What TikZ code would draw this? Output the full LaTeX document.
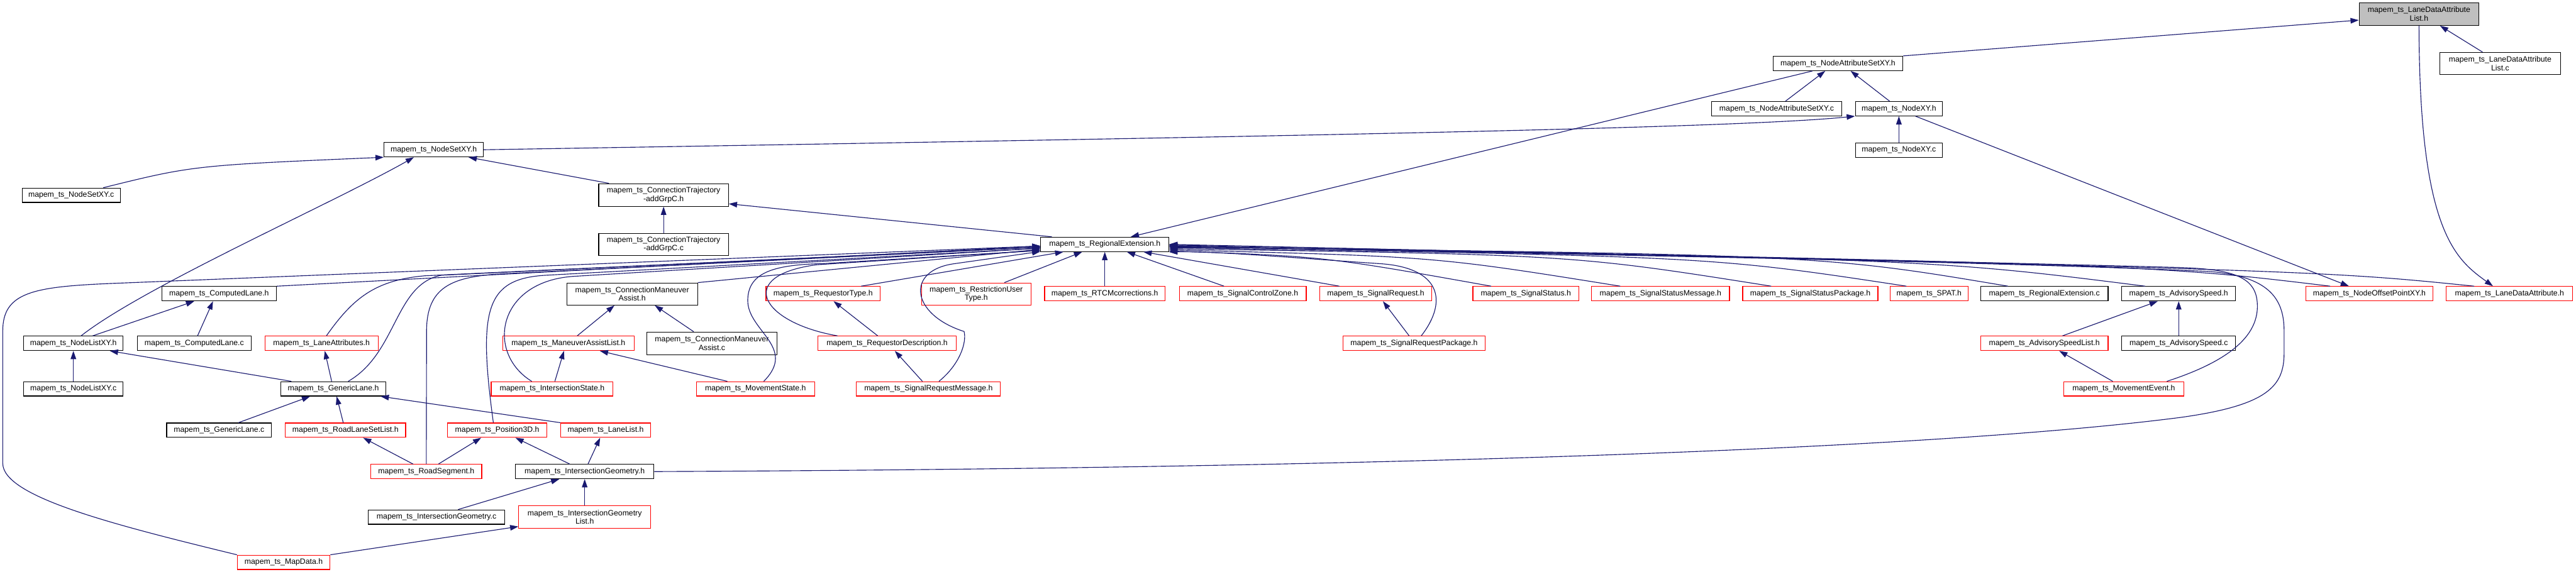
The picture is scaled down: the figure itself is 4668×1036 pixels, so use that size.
\documentclass[tikz,border=0pt]{standalone}
\usepackage{fontspec}
\setmainfont{Liberation Sans}
\usepackage{tikz}
\usetikzlibrary{arrows.meta}
\definecolor{navy}{HTML}{191970}
\definecolor{boxgray}{HTML}{BFBFBF}

\begin{document}
\begin{tikzpicture}[
    x=1pt, y=1pt,
    >={Triangle[length=15pt,width=10pt]},
    file/.style={draw=black, fill=white, line width=1.3pt, inner sep=0pt,
        minimum height=26pt, align=center,
        font=\fontsize{14}{15.5}\selectfont},
    trunc/.style={file, draw=red},
    root/.style={file, fill=boxgray},
    inc/.style={->, draw=navy, line width=1.3pt}
]

% Canvas
\fill[white] (0,0) rectangle (4668,-1036);
\useasboundingbox (0,0) rectangle (4668,-1036);

% Top files
\node[root, minimum width=217pt, minimum height=41pt] (ldalh) at (4383.5,-25.5) {mapem\_ts\_LaneDataAttribute\\List.h};
\node[file, minimum width=219pt, minimum height=40pt] (ldalc) at (4530.5,-115) {mapem\_ts\_LaneDataAttribute\\List.c};
\node[file, minimum width=235pt] (nasxyh) at (3330.5,-115) {mapem\_ts\_NodeAttributeSetXY.h};
\node[file, minimum width=235pt] (nasxyc) at (3219.5,-197) {mapem\_ts\_NodeAttributeSetXY.c};
\node[file, minimum width=158pt] (nxyh) at (3441,-197) {mapem\_ts\_NodeXY.h};
\node[file, minimum width=158pt] (nxyc) at (3441,-272) {mapem\_ts\_NodeXY.c};
\node[file, minimum width=180pt] (nsxyh) at (786,-271.5) {mapem\_ts\_NodeSetXY.h};
\node[file, minimum width=178pt] (nsxyc) at (129,-354) {mapem\_ts\_NodeSetXY.c};
\node[file, minimum width=235pt, minimum height=41pt] (ctrajh) at (1202.5,-353.5) {mapem\_ts\_ConnectionTrajectory\\-addGrpC.h};
\node[file, minimum width=235pt, minimum height=40pt] (ctrajc) at (1202.5,-443) {mapem\_ts\_ConnectionTrajectory\\-addGrpC.c};
\node[file, minimum width=232pt] (regexth) at (2002,-443) {mapem\_ts\_RegionalExtension.h};

% Row under the regional extension
\node[file, minimum width=208pt] (complaneh) at (397,-532.5) {mapem\_ts\_ComputedLane.h};
\node[file, minimum width=237pt, minimum height=40pt] (cmah) at (1145.5,-533) {mapem\_ts\_ConnectionManeuver\\Assist.h};
\node[trunc, minimum width=207pt] (reqtypeh) at (1491.5,-532.5) {mapem\_ts\_RequestorType.h};
\node[trunc, minimum width=198pt, minimum height=40pt] (restrh) at (1769,-533) {mapem\_ts\_RestrictionUser\\Type.h};
\node[trunc, minimum width=218pt] (rtcmh) at (2002,-532.5) {mapem\_ts\_RTCMcorrections.h};
\node[trunc, minimum width=230pt] (sczh) at (2252,-532.5) {mapem\_ts\_SignalControlZone.h};
\node[trunc, minimum width=202pt] (sreqh) at (2493,-532.5) {mapem\_ts\_SignalRequest.h};
\node[trunc, minimum width=192pt] (sstath) at (2765,-532.5) {mapem\_ts\_SignalStatus.h};
\node[trunc, minimum width=250pt] (ssmsgh) at (3009,-532.5) {mapem\_ts\_SignalStatusMessage.h};
\node[trunc, minimum width=245pt] (sspkgh) at (3280.5,-532.5) {mapem\_ts\_SignalStatusPackage.h};
\node[trunc, minimum width=141pt] (spath) at (3495.5,-532.5) {mapem\_ts\_SPAT.h};
\node[file, minimum width=231pt] (regextc) at (3704.5,-532.5) {mapem\_ts\_RegionalExtension.c};
\node[file, minimum width=206pt] (advsh) at (3948,-532.5) {mapem\_ts\_AdvisorySpeed.h};
\node[trunc, minimum width=231pt] (nopxyh) at (4293.5,-532.5) {mapem\_ts\_NodeOffsetPointXY.h};
\node[trunc, minimum width=229pt] (ldah) at (4547.5,-532.5) {mapem\_ts\_LaneDataAttribute.h};

% Next row
\node[file, minimum width=180pt] (nlxyh) at (133,-622.5) {mapem\_ts\_NodeListXY.h};
\node[file, minimum width=206pt] (complanec) at (352,-622.5) {mapem\_ts\_ComputedLane.c};
\node[trunc, minimum width=205pt] (laneattrh) at (582.5,-622.5) {mapem\_ts\_LaneAttributes.h};
\node[trunc, minimum width=238pt] (malisth) at (1030,-622.5) {mapem\_ts\_ManeuverAssistList.h};
\node[file, minimum width=236pt, minimum height=41pt] (cmac) at (1290,-622.5) {mapem\_ts\_ConnectionManeuver\\Assist.c};
\node[trunc, minimum width=251pt] (reqdesch) at (1607.5,-622.5) {mapem\_ts\_RequestorDescription.h};
\node[trunc, minimum width=257pt] (sreqpkgh) at (2562.5,-622.5) {mapem\_ts\_SignalRequestPackage.h};
\node[trunc, minimum width=231pt] (advslisth) at (3704.5,-622.5) {mapem\_ts\_AdvisorySpeedList.h};
\node[file, minimum width=206pt] (advsc) at (3948,-622.5) {mapem\_ts\_AdvisorySpeed.c};

\node[file, minimum width=180pt] (nlxyc) at (133,-705) {mapem\_ts\_NodeListXY.c};
\node[file, minimum width=190pt] (genlaneh) at (604,-705) {mapem\_ts\_GenericLane.h};
\node[trunc, minimum width=221pt] (intstateh) at (1000.5,-705) {mapem\_ts\_IntersectionState.h};
\node[trunc, minimum width=214pt] (movstateh) at (1369,-705) {mapem\_ts\_MovementState.h};
\node[trunc, minimum width=261pt] (sreqmsgh) at (1682.5,-705) {mapem\_ts\_SignalRequestMessage.h};
\node[trunc, minimum width=217pt] (moveventh) at (3848.5,-705) {mapem\_ts\_MovementEvent.h};

\node[file, minimum width=190pt] (genlanec) at (397,-780) {mapem\_ts\_GenericLane.c};
\node[trunc, minimum width=218pt] (rlslisth) at (626,-780) {mapem\_ts\_RoadLaneSetList.h};
\node[trunc, minimum width=180pt] (pos3dh) at (901,-780) {mapem\_ts\_Position3D.h};
\node[trunc, minimum width=163pt] (lanelisth) at (1097.5,-780) {mapem\_ts\_LaneList.h};

\node[trunc, minimum width=201pt] (roadsegh) at (772.5,-855) {mapem\_ts\_RoadSegment.h};
\node[file, minimum width=251pt] (intgeomh) at (1059.5,-855) {mapem\_ts\_IntersectionGeometry.h};

\node[file, minimum width=248pt] (intgeomc) at (791,-937.5) {mapem\_ts\_IntersectionGeometry.c};
\node[trunc, minimum width=239pt, minimum height=41pt] (intgeomlisth) at (1059.5,-937.5) {mapem\_ts\_IntersectionGeometry\\List.h};

\node[trunc, minimum width=168pt] (mapdatah) at (514,-1019.5) {mapem\_ts\_MapData.h};

% Upper includes
\draw[inc] (nasxyh.north east) -- ([yshift=-11pt]ldalh.west);
\draw[inc] ([xshift=-32pt]ldalc.north) -- ([xshift=38pt]ldalh.south);
\draw[inc] (ldalh.south) .. controls (4384,-420) and (4450,-470) .. ([xshift=-30pt]ldah.north);
\draw[inc] ([xshift=16pt]nasxyc.north) -- ([xshift=-23pt]nasxyh.south);
\draw[inc] ([xshift=-17pt]nxyh.north) -- ([xshift=23pt]nasxyh.south);
\draw[inc] ([xshift=-46pt]nasxyh.south) -- ([xshift=47pt]regexth.north);
\draw[inc] (nxyc.north) -- (nxyh.south);
\draw[inc] (nsxyh.east) .. controls (2400,-246) and (3150,-232) .. (nxyh.south west);
\draw[inc] ([xshift=30pt]nxyh.south) -- ([xshift=-37pt]nopxyh.north);
\draw[inc] ([xshift=58pt]nsxyc.north) .. controls (350,-300) .. (nsxyh.south west);
\draw[inc] ([xshift=14pt]nlxyh.north) .. controls (260,-520) and (600,-370) .. ([xshift=-36pt]nsxyh.south);
\draw[inc] ([xshift=-99pt]ctrajh.north) -- ([xshift=63pt]nsxyh.south);
\draw[inc] (ctrajc.north) -- (ctrajh.south);
\draw[inc] ([xshift=-96pt]regexth.north) -- ([yshift=-16pt]ctrajh.east);

% Lower left includes
\draw[inc] ([xshift=6pt]complanec.north) -- ([xshift=-11pt]complaneh.south);
\draw[inc] ([xshift=35pt]nlxyh.north) -- ([xshift=-45pt]complaneh.south);
\draw[inc] (nlxyc.north) -- (nlxyh.south);
\draw[inc] ([xshift=-76pt]genlaneh.north) -- ([xshift=66pt]nlxyh.south);
\draw[inc] ([xshift=-3pt]genlaneh.north) -- ([xshift=6pt]laneattrh.south);
\draw[inc] ([xshift=35pt]genlanec.north) -- ([xshift=-42pt]genlaneh.south);
\draw[inc] ([xshift=-4pt]rlslisth.north) -- ([xshift=6pt]genlaneh.south);
\draw[inc] (lanelisth.north west) -- ([xshift=-10pt]genlaneh.south east);
\draw[inc] ([xshift=-24pt]roadsegh.north) -- ([xshift=32pt]rlslisth.south);
\draw[inc] ([xshift=22pt]roadsegh.north) -- ([xshift=-29pt]pos3dh.south);
\draw[inc] ([xshift=-27pt]intgeomh.north) -- ([xshift=33pt]pos3dh.south);
\draw[inc] ([xshift=6pt]intgeomh.north) -- ([xshift=-10pt]lanelisth.south);
\draw[inc] ([xshift=39pt]intgeomc.north) -- ([xshift=-46pt]intgeomh.south);
\draw[inc] (intgeomlisth.north) -- (intgeomh.south);
\draw[inc] (mapdatah.north east) -- ([yshift=4pt]intgeomlisth.south west);
\draw[inc] ([xshift=16pt]malisth.north) -- ([xshift=-32pt]cmah.south);
\draw[inc] ([xshift=-33pt]cmac.north) -- ([xshift=41pt]cmah.south);
\draw[inc] ([xshift=5pt]intstateh.north) -- ([xshift=-8pt]malisth.south);
\draw[inc] ([xshift=-51pt]movstateh.north) -- ([xshift=57pt]malisth.south);
\draw[inc] ([xshift=-17pt]reqdesch.north) -- ([xshift=19pt]reqtypeh.south);
\draw[inc] ([xshift=-11pt]sreqmsgh.north) -- ([xshift=14pt]reqdesch.south);
\draw[inc] ([xshift=-9pt]sreqpkgh.north) -- ([xshift=13pt]sreqh.south);
\draw[inc] ([xshift=33pt]advslisth.north) -- ([xshift=-38pt]advsh.south);
\draw[inc] (advsc.north) -- (advsh.south);
\draw[inc] ([xshift=-20pt]moveventh.north) -- ([xshift=27pt]advslisth.south);

% Into the regional extension, from the left
\draw[inc] (complaneh.north east) -- ([yshift=-3pt]regexth.west);
\draw[inc] (mapdatah.north west) .. controls (200,-950) and (5,-900) .. (5,-840)
    -- (5,-600) .. controls (5,-530) and (60,-520) .. (200,-514) -- ([yshift=-3pt]regexth.west);
\draw[inc] ([xshift=9pt]laneattrh.north) .. controls (640,-540) and (680,-508) .. (770,-500) -- ([yshift=-5pt]regexth.west);
\draw[inc] ([xshift=27pt]genlaneh.north) .. controls (720,-640) and (715,-515) .. (800,-499) -- ([yshift=-5pt]regexth.west);
\draw[inc] (roadsegh.north) -- (773,-600) .. controls (773,-520) and (820,-503) .. (900,-497) -- ([yshift=-5pt]regexth.west);
\draw[inc] ([xshift=-7pt]pos3dh.north) .. controls (866,-560) and (880,-505) .. (990,-499) -- ([yshift=-7pt]regexth.west);
\draw[inc] ([xshift=-37pt]intstateh.north) .. controls (880,-640) and (900,-510) .. (1040,-501) -- ([yshift=-7pt]regexth.west);
\draw[inc] (cmah.north east) -- ([yshift=-9pt]regexth.west);
\draw[inc] ([xshift=-90pt]reqdesch.north) .. controls (1380,-585) and (1330,-500) .. (1480,-480) -- ([yshift=-11pt]regexth.west);
\draw[inc] ([xshift=15pt]movstateh.north) .. controls (1445,-630) and (1355,-600) .. (1355,-545)
    .. controls (1355,-495) and (1400,-480) .. (1490,-478) -- ([yshift=-11pt]regexth.west);
\draw[inc] ([xshift=19pt]sreqmsgh.north) .. controls (1740,-660) and (1752,-620) .. (1747,-601)
    .. controls (1650,-570) and (1640,-490) .. (1730,-478) -- ([yshift=-13pt]regexth.west);

% Into the regional extension, from below
\draw[inc] ([xshift=69pt]reqtypeh.north) -- ([xshift=-75pt]regexth.south);
\draw[inc] ([xshift=51pt]restrh.north) -- ([xshift=-41pt]regexth.south);
\draw[inc] (rtcmh.north) -- (regexth.south);
\draw[inc] ([xshift=-34pt]sczh.north) -- ([xshift=40pt]regexth.south);
\draw[inc] ([xshift=-66pt]sreqh.north) -- ([xshift=70pt]regexth.south);

% Into the regional extension, from the right
\draw[inc] ([xshift=13pt]sreqpkgh.north) .. controls (2625,-545) and (2610,-485) .. (2500,-478)
    .. controls (2350,-468) and (2200,-455) .. ([yshift=-14pt]regexth.east);
\draw[inc] ([xshift=-63pt]sstath.north) .. controls (2400,-465) .. ([yshift=-12pt]regexth.east);
\draw[inc] ([xshift=-73pt]ssmsgh.north) .. controls (2600,-465) .. ([yshift=-10pt]regexth.east);
\draw[inc] ([xshift=-71pt]sspkgh.north) .. controls (2850,-462) .. ([yshift=-8pt]regexth.east);
\draw[inc] ([xshift=-41pt]spath.north) .. controls (3100,-465) .. ([yshift=-6pt]regexth.east);
\draw[inc] ([xshift=-66pt]regextc.north) .. controls (3300,-462) .. ([yshift=-5pt]regexth.east);
\draw[inc] ([xshift=-61pt]advsh.north) .. controls (3500,-470) .. ([yshift=-4pt]regexth.east);
\draw[inc] ([xshift=78pt]moveventh.north) .. controls (4070,-645) and (4095,-590) .. (4090,-545)
    .. controls (4085,-500) and (4040,-488) .. (3950,-485)
    .. controls (3400,-470) and (2600,-455) .. ([yshift=-3pt]regexth.east);
\draw[inc] (intgeomh.east) .. controls (2500,-849) and (3500,-815) .. (3950,-757)
    .. controls (4110,-735) and (4139,-700) .. (4139,-640) -- (4139,-600)
    .. controls (4139,-540) and (4110,-500) .. (4000,-492)
    .. controls (3500,-470) and (2600,-458) .. ([yshift=-2pt]regexth.east);
\draw[inc] ([xshift=-71pt]nopxyh.north) .. controls (3900,-480) .. ([yshift=-1pt]regexth.east);
\draw[inc] ([xshift=-64pt]ldah.north) .. controls (4200,-490) .. (regexth.east);
\end{tikzpicture}
\end{document}
